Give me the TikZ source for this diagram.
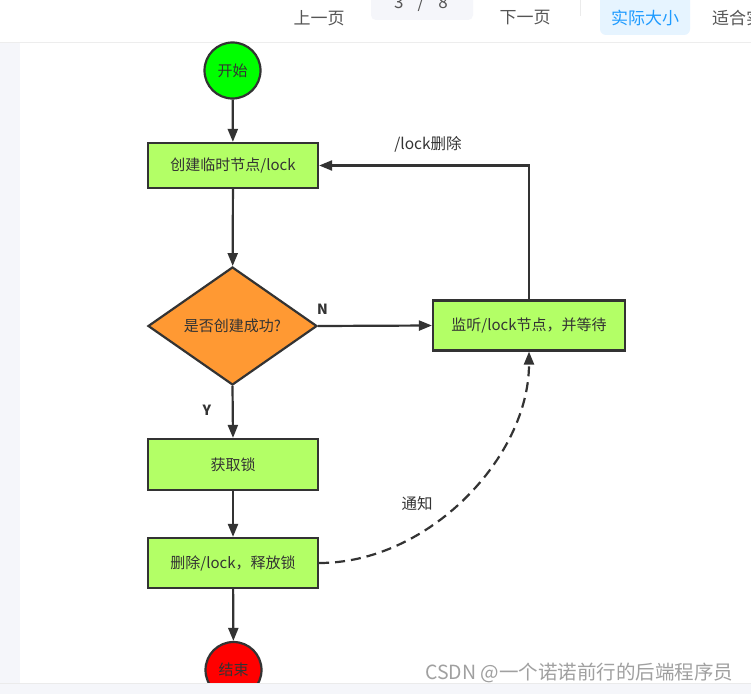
\documentclass[tikz,border=0pt]{standalone}
\usepackage{fontspec}
\setmainfont{Noto Sans CJK SC}
\usetikzlibrary{shapes.geometric,arrows.meta}
\definecolor{boxgreen}{HTML}{B3FF66}
\definecolor{startgreen}{HTML}{00FF00}
\definecolor{endred}{HTML}{FF0000}
\definecolor{diaorange}{HTML}{FF9933}
\definecolor{edgegray}{HTML}{333333}
\definecolor{txtgray}{HTML}{333333}
\definecolor{uigray}{HTML}{555555}
\definecolor{uistrip}{HTML}{F5F6FA}
\definecolor{uiblue}{HTML}{1E9BFF}
\definecolor{uibluebg}{HTML}{E6F4FF}
\definecolor{wmgray}{HTML}{A0A0A0}
\tikzset{
  base/.style={draw=edgegray, line width=2.2pt, text=txtgray, font=\fontsize{15}{18}\selectfont, inner sep=0pt},
  stepbox/.style={base, rectangle, fill=boxgreen, minimum height=50pt},
  terminal/.style={base, circle, minimum size=56pt},
  decision/.style={base, diamond, fill=diaorange, minimum width=169pt, minimum height=118pt},
  conn/.style={draw=edgegray, line width=2.2pt, -{Triangle[length=13pt,width=10pt]}},
  dashconn/.style={conn, dash pattern=on 10pt off 6pt},
  lbl/.style={text=txtgray, font=\fontsize{15.5}{18}\selectfont, inner sep=0pt},
  yn/.style={text=txtgray, font=\fontsize{14}{16}\selectfont\bfseries, inner sep=0pt},
  uitext/.style={text=uigray, font=\fontsize{17}{20}\selectfont, inner sep=0pt}
}
\begin{document}
\begin{tikzpicture}[x=1pt,y=-1pt]
\useasboundingbox (0,0) rectangle (751,693);
% page background
\fill[white] (0,0) rectangle (751,693);
\fill[uistrip] (0,42) rectangle (20,693);
\draw[black!7, line width=1pt] (0,42.5) -- (751,42.5);
% toolbar
\node[uitext] (prev) at (319,18) {上一页};
\fill[uistrip, rounded corners=5pt] (371,-12) rectangle (473,20);
\node[uitext] (pg) at (421,3) {3\hspace{14pt}/\hspace{14pt}8};
\node[uitext] (next) at (525,18) {下一页};
\draw[black!8, line width=1pt] (580,0) -- (580,16);
\fill[uibluebg, rounded corners=6pt] (600,-12) rectangle (690,35);
\node[uitext, text=uiblue] (actual) at (645,18) {实际大小};
\node[uitext, anchor=west] (fit) at (712,18) {适合实};
% diagram nodes
\node[terminal, fill=startgreen] (start) at (232.5,70.5) {开始};
\node[stepbox, minimum width=170pt, minimum height=45pt] (create) at (233,165.5) {创建临时节点/lock};
\node[decision] (check) at (232.5,326) {是否创建成功?};
\node[stepbox, minimum width=192pt] (watch) at (529,325.5) {监听/lock节点，并等待};
\node[stepbox, minimum width=170pt, minimum height=51pt] (get) at (233,464.5) {获取锁};
\node[stepbox, minimum width=170pt] (del) at (233,563) {删除/lock，释放锁};
\node[terminal, fill=endred] (end) at (233.5,670) {结束};
% connectors
\draw[conn] (start) -- (create);
\draw[conn] (create) -- (check);
\draw[conn] (check.east) -- (watch.west);
\draw[conn] (watch.north) |- (create.east);
\draw[conn] (check.south) -- (get.north);
\draw[conn] (get) -- (del);
\draw[conn] (del) -- (end);
\draw[dashconn] (del.east) .. controls +(110,0) and +(0,105) .. (watch.south);
% labels
\node[lbl] (lremove) at (428,144) {/lock删除};
\node[yn] (ln) at (322.5,309) {N};
\node[yn] (ly) at (207,410) {Y};
\node[lbl] (lnotify) at (417,504) {通知};
% bottom strip and watermark
\fill[uistrip] (-5,683) rectangle (760,705);
\draw[black!8, line width=0.8pt] (0,683) -- (751,683);
\node[text=wmgray, font=\fontsize{19.5}{22}\selectfont, inner sep=0pt, anchor=west] (wm) at (425,673) {CSDN @一个诺诺前行的后端程序员};
\end{tikzpicture}
\end{document}
